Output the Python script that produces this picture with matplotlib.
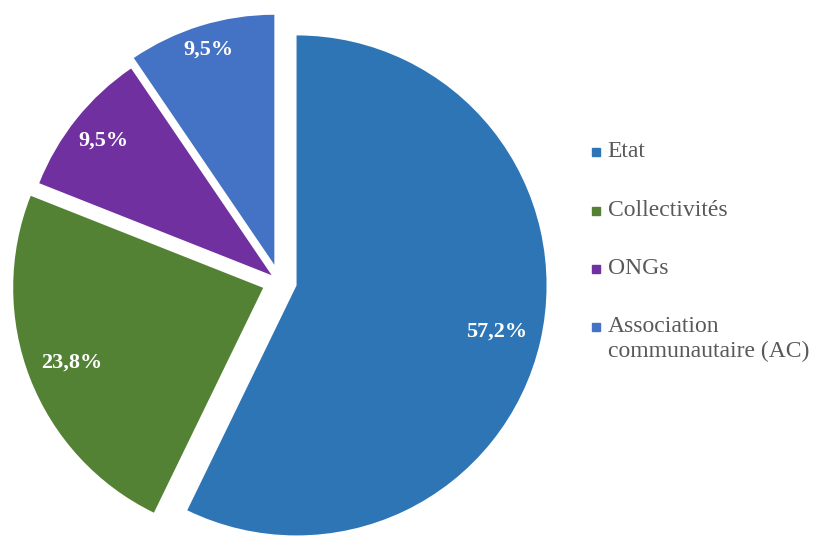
import numpy as np
import matplotlib.pyplot as plt
from matplotlib.patches import Rectangle

labels = ["Etat", "Collectivités", "ONGs", "Association\ncommunautaire (AC)"]
values = [57.2, 23.8, 9.5, 9.5]
pct_labels = ["57,2%", "23,8%", "9,5%", "9,5%"]
colors = ["#2E75B6", "#548235", "#7030A0", "#4472C4"]

W, H = 817, 536
R = 250.0             # rayon en pixels
cx, cy = 279.5, 281.5  # centre (pixels, depuis le haut)

fig = plt.figure(figsize=(W / 100, H / 100), dpi=100)
ax = fig.add_axes([0, 0, 1, 1])

wedges, _ = ax.pie(values, colors=colors, startangle=90, counterclock=False,
                   explode=[0.07, 0.07, 0.04, 0.07], radius=1)

# libellés de pourcentage
dists = [0.893, 0.891, 0.904, 0.969]
for w, txt, d in zip(wedges, pct_labels, dists):
    ang = np.deg2rad((w.theta1 + w.theta2) / 2)
    ax.text(d * np.cos(ang), d * np.sin(ang), txt, ha="center", va="center",
            color="white", fontsize=16, fontweight="bold",
            family="Liberation Serif")

ax.set_aspect("auto")
ax.set_xlim(-cx / R, (W - cx) / R)
ax.set_ylim(-(H - cy) / R, cy / R)
ax.axis("off")

# légende
y0 = 158.3
step = 58.3
for i, (lab, col) in enumerate(zip(labels, colors)):
    yb = y0 + i * step
    fig.patches.append(Rectangle(((595.5 - 4) / W, 1 - (yb - 6 + 4) / H), 8 / W, 8 / H,
                                 transform=fig.transFigure, color=col))
    fig.text(607.7 / W, 1 - (yb - 17) / H, lab, ha="left", va="top",
             fontsize=17, color="#595959", family="Liberation Serif",
             linespacing=1.22)

fig.savefig("out.png", dpi=100)
